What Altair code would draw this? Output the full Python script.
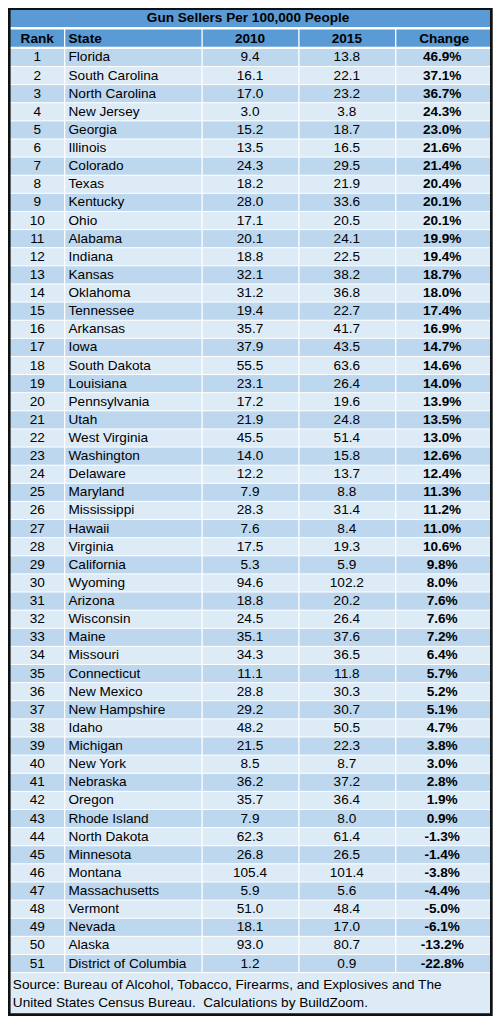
import altair as alt
import pandas as pd

# ---------------- data ----------------
states = ["Florida", "South Carolina", "North Carolina", "New Jersey", "Georgia",
          "Illinois", "Colorado", "Texas", "Kentucky", "Ohio", "Alabama", "Indiana",
          "Kansas", "Oklahoma", "Tennessee", "Arkansas", "Iowa", "South Dakota",
          "Louisiana", "Pennsylvania", "Utah", "West Virginia", "Washington",
          "Delaware", "Maryland", "Mississippi", "Hawaii", "Virginia", "California",
          "Wyoming", "Arizona", "Wisconsin", "Maine", "Missouri", "Connecticut",
          "New Mexico", "New Hampshire", "Idaho", "Michigan", "New York", "Nebraska",
          "Oregon", "Rhode Island", "North Dakota", "Minnesota", "Montana",
          "Massachusetts", "Vermont", "Nevada", "Alaska", "District of Columbia"]
v2010 = [9.4, 16.1, 17.0, 3.0, 15.2, 13.5, 24.3, 18.2, 28.0, 17.1, 20.1, 18.8,
         32.1, 31.2, 19.4, 35.7, 37.9, 55.5, 23.1, 17.2, 21.9, 45.5, 14.0, 12.2,
         7.9, 28.3, 7.6, 17.5, 5.3, 94.6, 18.8, 24.5, 35.1, 34.3, 11.1, 28.8,
         29.2, 48.2, 21.5, 8.5, 36.2, 35.7, 7.9, 62.3, 26.8, 105.4, 5.9, 51.0,
         18.1, 93.0, 1.2]
v2015 = [13.8, 22.1, 23.2, 3.8, 18.7, 16.5, 29.5, 21.9, 33.6, 20.5, 24.1, 22.5,
         38.2, 36.8, 22.7, 41.7, 43.5, 63.6, 26.4, 19.6, 24.8, 51.4, 15.8, 13.7,
         8.8, 31.4, 8.4, 19.3, 5.9, 102.2, 20.2, 26.4, 37.6, 36.5, 11.8, 30.3,
         30.7, 50.5, 22.3, 8.7, 37.2, 36.4, 8.0, 61.4, 26.5, 101.4, 5.6, 48.4,
         17.0, 80.7, 0.9]
change_pct = [46.9, 37.1, 36.7, 24.3, 23.0, 21.6, 21.4, 20.4, 20.1, 20.1, 19.9, 19.4,
              18.7, 18.0, 17.4, 16.9, 14.7, 14.6, 14.0, 13.9, 13.5, 13.0, 12.6, 12.4,
              11.3, 11.2, 11.0, 10.6, 9.8, 8.0, 7.6, 7.6, 7.2, 6.4, 5.7, 5.2,
              5.1, 4.7, 3.8, 3.0, 2.8, 1.9, 0.9, -1.3, -1.4, -3.8, -4.4, -5.0,
              -6.1, -13.2, -22.8]
ranks = list(range(1, len(states) + 1))

title_text = "Gun Sellers Per 100,000 People"
header_labels = ["Rank", "State", "2010", "2015", "Change"]
source_lines = ["Source: Bureau of Alcohol, Tobacco, Firearms, and Explosives and The",
                "United States Census Bureau.\u00a0 Calculations by BuildZoom."]

# ---------------- layout (reference pixel grid) ----------------
REF_W, REF_H = 501, 1024
W, H = 485, 1008
COL_EDGES = [2, 58.5, 200.5, 300.5, 400.5, 498]
ROW0, ROW_H = 41, 18.41
ROW_END = ROW0 + len(states) * ROW_H
FONT = "Liberation Sans"
FS = 13.6
BLUE, DARK, LIGHT = "#5b9bd5", "#bdd7ee", "#ddebf7"

XS = alt.Scale(domain=[0, REF_W], nice=False, zero=False)
YS = alt.Scale(domain=[0, REF_H], nice=False, zero=False, reverse=True)


def X(f):
    return alt.X(f, type="quantitative", scale=XS, axis=None)


def Y(f):
    return alt.Y(f, type="quantitative", scale=YS, axis=None)


df = pd.DataFrame({
    "rank": ranks,
    "state": states,
    "t2010": [f"{v:.1f}" for v in v2010],
    "t2015": [f"{v:.1f}" for v in v2015],
    "tchg": [f"{c:.1f}%" for c in change_pct],
})
df["y0"] = ROW0 + (df["rank"] - 1) * ROW_H
df["y1"] = df["y0"] + ROW_H
df["yc"] = df["y0"] + ROW_H / 2
df["xl"] = COL_EDGES[0]
df["xr"] = COL_EDGES[-1]
df["xrank"] = 30.2
df["xstate"] = 62.5
df["x2010"] = 250
df["x2015"] = 350
df["xchg"] = 448.5

bg_rows = alt.Chart(df).mark_rect().encode(
    x=X("xl"), x2=alt.X2("xr"), y=Y("y0"), y2=alt.Y2("y1"),
    color=alt.condition("datum.rank % 2 == 1", alt.value(DARK), alt.value(LIGHT)),
)

bands = pd.DataFrame({
    "kind": ["title", "header", "source"],
    "x0": [1, COL_EDGES[0], COL_EDGES[0]],
    "x1": [500, COL_EDGES[-1], COL_EDGES[-1]],
    "y0": [0, 21, ROW_END],
    "y1": [21, 41, 1022],
})
band_layer = alt.Chart(bands).mark_rect().encode(
    x=X("x0"), x2=alt.X2("x1"), y=Y("y0"), y2=alt.Y2("y1"),
    color=alt.Color("kind:N", scale=alt.Scale(domain=["title", "header", "source"],
                                              range=[BLUE, BLUE, LIGHT]), legend=None),
)

vl = pd.DataFrame({"x": COL_EDGES[1:-1], "y0": 21, "y1": ROW_END})
vrules = alt.Chart(vl).mark_rule(color="white", strokeWidth=1.3).encode(
    x=X("x"), y=Y("y0"), y2=alt.Y2("y1"))

hl = pd.DataFrame({
    "y": [20.5, 40.5] + [ROW0 + k * ROW_H for k in range(1, len(states) + 1)],
    "sw": [2.6, 2.2] + [1.0] * len(states),
    "x0": COL_EDGES[0], "x1": COL_EDGES[-1],
})
hrules = alt.Chart(hl).mark_rule(color="white").encode(
    y=Y("y"), x=X("x0"), x2=alt.X2("x1"),
    strokeWidth=alt.StrokeWidth("sw:Q", scale=None))

tdf = pd.DataFrame({"t": [title_text], "x": [248], "y": [10.5]})
title_layer = alt.Chart(tdf).mark_text(font=FONT, fontSize=FS, fontWeight="bold",
                                       align="center", baseline="middle", color="black").encode(
    x=X("x"), y=Y("y"), text="t:N")

hdf = pd.DataFrame({"t": header_labels, "x": [30.2, 62.5, 250, 350, 450.5], "y": 31,
                    "left": [False, True, False, False, False]})
head_c = alt.Chart(hdf).transform_filter("!datum.left").mark_text(
    font=FONT, fontSize=FS, fontWeight="bold", align="center", baseline="middle",
    color="black").encode(x=X("x"), y=Y("y"), text="t:N")
head_l = alt.Chart(hdf).transform_filter("datum.left").mark_text(
    font=FONT, fontSize=FS, fontWeight="bold", align="left", baseline="middle",
    color="black").encode(x=X("x"), y=Y("y"), text="t:N")

base = alt.Chart(df)
txt_rank = base.mark_text(font=FONT, fontSize=FS, align="center", baseline="middle",
                          color="black").encode(x=X("xrank"), y=Y("yc"), text="rank:N")
txt_state = base.mark_text(font=FONT, fontSize=FS, align="left", baseline="middle",
                           color="black").encode(x=X("xstate"), y=Y("yc"), text="state:N")
txt_2010 = base.mark_text(font=FONT, fontSize=FS, align="center", baseline="middle",
                          color="black").encode(x=X("x2010"), y=Y("yc"), text="t2010:N")
txt_2015 = base.mark_text(font=FONT, fontSize=FS, align="center", baseline="middle",
                          color="black").encode(x=X("x2015"), y=Y("yc"), text="t2015:N")
txt_chg = base.mark_text(font=FONT, fontSize=FS, fontWeight="bold", align="center",
                         baseline="middle", color="black").encode(
    x=X("xchg"), y=Y("yc"), text="tchg:N")

sdf = pd.DataFrame({"t": source_lines, "x": 5, "y": [992, 1010.5]})
src_layer = alt.Chart(sdf).mark_text(font=FONT, fontSize=FS, align="left", baseline="middle",
                                     color="black").encode(x=X("x"), y=Y("y"), text="t:N")

border = pd.DataFrame({"x0": [1.3], "x1": [499.3], "y0": [0.6], "y1": [1022.6]})
border_layer = alt.Chart(border).mark_rect(fillOpacity=0, stroke="#111111",
                                           strokeWidth=2.7).encode(
    x=X("x0"), x2=alt.X2("x1"), y=Y("y0"), y2=alt.Y2("y1"))

chart = alt.layer(
    bg_rows, band_layer, vrules, hrules, title_layer, head_c, head_l,
    txt_rank, txt_state, txt_2010, txt_2015, txt_chg, src_layer, border_layer,
).properties(
    width=W, height=H, padding=0,
    autosize=alt.AutoSizeParams(type="none"),
).configure_view(strokeWidth=0)

chart.save("out.html", embed_options={"renderer": "svg", "actions": False})
